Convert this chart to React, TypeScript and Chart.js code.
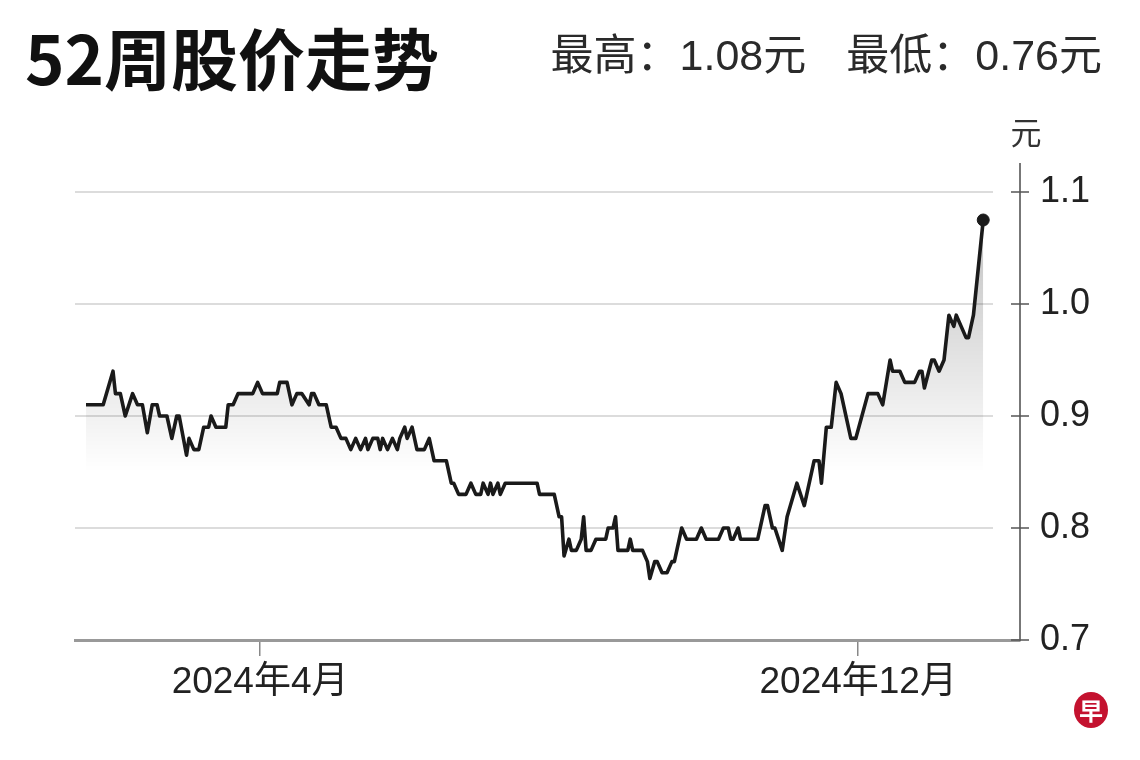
import React, { useEffect, useRef } from 'react';
import { Chart, registerables } from 'chart.js';

Chart.register(...registerables);

// Days counted from 2024-01-21
const dayOffsets = [
  0, 7, 11, 12, 14, 16, 19, 21, 23, 25, 27, 29, 30, 33, 35, 37, 38, 41, 42, 44,
  46, 48, 50, 51, 53, 57, 58, 60, 62, 68, 70, 72, 78, 79, 82, 84, 86, 88, 91, 92,
  93, 95, 98, 100, 102, 104, 106, 108, 110, 112, 114, 115, 117, 119, 120, 121, 123, 125, 127, 128,
  130, 131, 133, 134, 135, 138, 140, 142, 147, 149, 150, 152, 155, 157, 159, 161, 162, 164, 165, 166,
  168, 169, 171, 184, 185, 191, 193, 194, 195, 197, 198, 200, 202, 203, 204, 206, 208, 212, 213, 215,
  216, 217, 221, 222, 223, 227, 229, 230, 232, 233, 235, 237, 239, 240, 242, 243, 245, 249, 251, 253,
  258, 260, 262, 263, 264, 266, 267, 274, 277, 278, 280, 281, 284, 286, 290, 293, 297, 299, 300, 302,
  304, 306, 308, 312, 314, 319, 323, 325, 328, 329, 332, 334, 338, 340, 341, 342, 345, 346, 348, 350,
  352, 354, 355, 357, 359, 360, 362, 366,
];

const prices = [
  0.91, 0.91, 0.94, 0.92, 0.92, 0.90, 0.92, 0.91, 0.91, 0.885, 0.91, 0.91, 0.90, 0.90, 0.88, 0.90, 0.90, 0.865, 0.88, 0.87,
  0.87, 0.89, 0.89, 0.90, 0.89, 0.89, 0.91, 0.91, 0.92, 0.92, 0.93, 0.92, 0.92, 0.93, 0.93, 0.91, 0.92, 0.92, 0.91, 0.92,
  0.92, 0.91, 0.91, 0.89, 0.89, 0.88, 0.88, 0.87, 0.88, 0.87, 0.88, 0.87, 0.88, 0.88, 0.87, 0.88, 0.87, 0.88, 0.87, 0.88,
  0.89, 0.88, 0.89, 0.88, 0.87, 0.87, 0.88, 0.86, 0.86, 0.84, 0.84, 0.83, 0.83, 0.84, 0.83, 0.83, 0.84, 0.83, 0.84, 0.83,
  0.84, 0.83, 0.84, 0.84, 0.83, 0.83, 0.81, 0.81, 0.775, 0.79, 0.78, 0.78, 0.79, 0.81, 0.78, 0.78, 0.79, 0.79, 0.80, 0.80,
  0.81, 0.78, 0.78, 0.79, 0.78, 0.78, 0.77, 0.755, 0.77, 0.77, 0.76, 0.76, 0.77, 0.77, 0.79, 0.80, 0.79, 0.79, 0.80, 0.79,
  0.79, 0.80, 0.80, 0.79, 0.79, 0.80, 0.79, 0.79, 0.82, 0.82, 0.80, 0.80, 0.78, 0.81, 0.84, 0.82, 0.86, 0.86, 0.84, 0.89,
  0.89, 0.93, 0.92, 0.88, 0.88, 0.92, 0.92, 0.91, 0.95, 0.94, 0.94, 0.93, 0.93, 0.94, 0.94, 0.925, 0.95, 0.95, 0.94, 0.95,
  0.99, 0.98, 0.99, 0.98, 0.97, 0.97, 0.99, 1.075,
];

const xTickDays = [71, 315];
const xTickLabels = ['2024年4月', '2024年12月'];
const yTicks = [0.7, 0.8, 0.9, 1.0, 1.1];
const titleText = '52周股价走势';
const highText = '最高：1.08元';
const lowText = '最低：0.76元';
const unitText = '元';
const logoText = '早';

export default function App() {
  const ref = useRef<HTMLCanvasElement>(null);

  useEffect(() => {
    const canvas = ref.current;
    if (!canvas) return;
    const points = dayOffsets.map((d, i) => ({ x: d, y: prices[i] }));
    const lastIndex = points.length - 1;

    const decor = {
      id: 'decor',
      beforeDatasetsDraw(chart: any) {
        const { ctx, chartArea, scales } = chart;
        const ys = scales.y;
        ctx.save();
        ctx.strokeStyle = '#dcdcdc';
        ctx.lineWidth = 2;
        yTicks.forEach((v, i) => {
          if (i === 0) return;
          const py = Math.round(ys.getPixelForValue(v));
          ctx.beginPath();
          ctx.moveTo(chartArea.left, py);
          ctx.lineTo(chartArea.right - 27, py);
          ctx.stroke();
        });
        ctx.restore();
      },
      afterDraw(chart: any) {
        const { ctx, chartArea, scales } = chart;
        const ys = scales.y;
        ctx.save();
        ctx.strokeStyle = '#555';
        ctx.lineWidth = 1.5;
        yTicks.forEach((v) => {
          const py = Math.round(ys.getPixelForValue(v));
          ctx.beginPath();
          ctx.moveTo(chartArea.right - 9, py);
          ctx.lineTo(chartArea.right + 9, py);
          ctx.stroke();
        });
        ctx.fillStyle = '#333';
        ctx.font = '31px "Noto Sans CJK SC"';
        ctx.textAlign = 'center';
        ctx.textBaseline = 'middle';
        ctx.fillText(unitText, chartArea.right + 6, chartArea.top - 32);
        ctx.restore();
      },
    };

    const chart = new Chart(canvas, {
      type: 'line',
      data: {
        datasets: [
          {
            data: points,
            borderColor: '#1a1a1a',
            borderWidth: 3.6,
            borderJoinStyle: 'round',
            tension: 0,
            fill: 'start',
            backgroundColor: (c: any) => {
              const ch = c.chart;
              const { ctx, chartArea, scales } = ch;
              if (!chartArea || !scales.y) return 'rgba(0,0,0,0.1)';
              const top = scales.y.getPixelForValue(1.11);
              const bottom = scales.y.getPixelForValue(0.85);
              const g = ctx.createLinearGradient(0, top, 0, bottom);
              g.addColorStop(0, 'rgba(0,0,0,0.28)');
              g.addColorStop(1, 'rgba(0,0,0,0)');
              return g;
            },
            pointRadius: (c: any) => (c.dataIndex === lastIndex ? 6 : 0),
            pointBackgroundColor: '#1a1a1a',
            pointBorderColor: '#1a1a1a',
            pointBorderWidth: 1,
          },
        ],
      },
      options: {
        responsive: false,
        animation: false,
        devicePixelRatio: 1,
        events: [],
        layout: { padding: { left: 75, top: 164, right: 0, bottom: 40 } },
        plugins: { legend: { display: false }, tooltip: { enabled: false } },
        scales: {
          x: {
            type: 'linear',
            min: -4.5,
            max: 381,
            afterFit: (s: any) => {
              s.height = 80;
            },
            afterBuildTicks: (s: any) => {
              s.ticks = xTickDays.map((v) => ({ value: v }));
            },
            grid: {
              display: true,
              drawOnChartArea: false,
              drawTicks: true,
              tickLength: 16,
              color: '#888',
              lineWidth: 1.5,
            },
            border: { display: true, color: '#999', width: 3 },
            ticks: {
              autoSkip: false,
              maxRotation: 0,
              padding: 5,
              color: '#222',
              font: { family: '"Liberation Sans", "Noto Sans CJK SC"', size: 37 },
              callback: (v: any) => {
                const i = xTickDays.indexOf(Number(v));
                return i >= 0 ? xTickLabels[i] : '';
              },
            },
          },
          y: {
            position: 'right',
            min: 0.7,
            max: 1.125,
            afterFit: (s: any) => {
              s.width = 120;
            },
            afterBuildTicks: (s: any) => {
              s.ticks = yTicks.map((v) => ({ value: v }));
            },
            grid: { display: true, drawOnChartArea: false, drawTicks: false },
            border: { display: true, color: '#777', width: 2 },
            ticks: {
              padding: 20,
              color: '#222',
              font: { family: '"Liberation Sans"', size: 36 },
              callback: (v: any) => Number(v).toFixed(1),
            },
          },
        },
      },
      plugins: [decor],
    } as any);

    return () => chart.destroy();
  }, []);

  return (
    <div
      style={{
        position: 'fixed',
        left: 0,
        top: 0,
        width: 1140,
        height: 760,
        background: '#fff',
        overflow: 'hidden',
      }}
    >
      <canvas
        ref={ref}
        width={1140}
        height={760}
        style={{ position: 'absolute', left: 0, top: 0, width: 1140, height: 760, display: 'block' }}
      />
      <div
        style={{
          position: 'absolute',
          left: 25,
          top: 22,
          fontFamily: '"Noto Sans CJK SC"',
          fontWeight: 700,
          fontSize: 67,
          lineHeight: 1,
          color: '#111',
          whiteSpace: 'nowrap',
        }}
      >
        {titleText}
      </div>
      <div
        style={{
          position: 'absolute',
          right: 38,
          top: 34,
          fontFamily: '"Liberation Sans", "Noto Sans CJK SC"',
          fontSize: 43,
          lineHeight: 1,
          color: '#2a2a2a',
          whiteSpace: 'nowrap',
        }}
      >
        <span>{highText}</span>
        <span style={{ marginLeft: 40 }}>{lowText}</span>
      </div>
      <div
        style={{
          position: 'absolute',
          left: 1074,
          top: 692,
          width: 34,
          height: 36,
          borderRadius: '50%',
          background: '#c4122f',
          color: '#fff',
          display: 'flex',
          alignItems: 'center',
          justifyContent: 'center',
          fontFamily: '"Noto Sans CJK SC"',
          fontWeight: 700,
          fontSize: 24,
          lineHeight: 1,
        }}
      >
        {logoText}
      </div>
    </div>
  );
}
